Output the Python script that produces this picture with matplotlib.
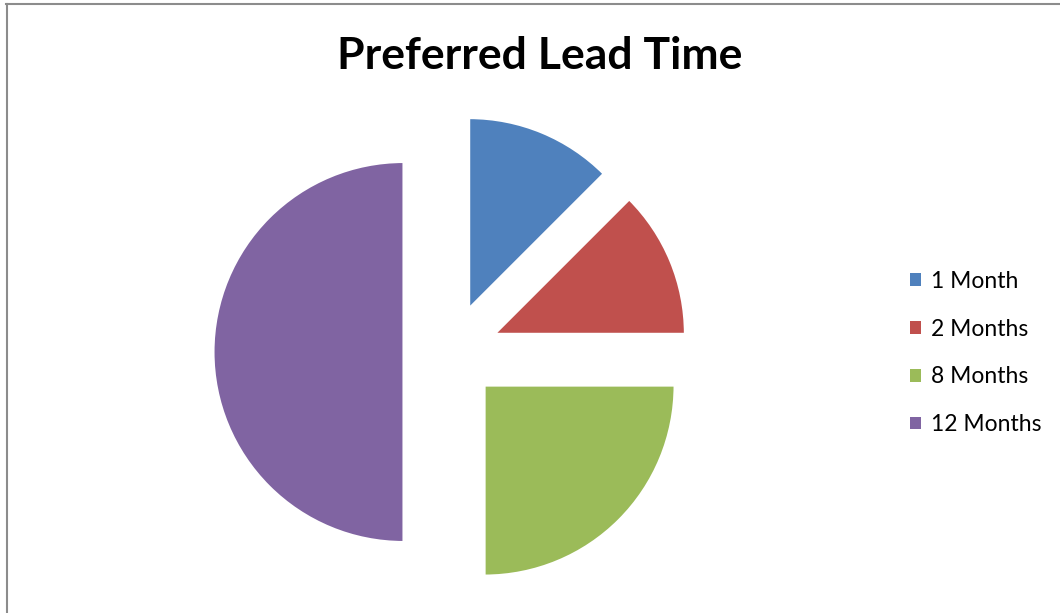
import matplotlib.pyplot as plt
from matplotlib.lines import Line2D
from matplotlib.patches import Patch

# Du lieu
labels = ['1 Month', '2 Months', '8 Months', '12 Months']
values = [1, 1, 2, 4]
colors = ['#4F81BD', '#C0504D', '#9BBB59', '#8064A2']

W, H = 1060, 613
fig = plt.figure(figsize=(W / 100, H / 100), dpi=100)
plt.rcParams['font.family'] = ['Lato', 'DejaVu Sans']

# Tam pie (px) va ban kinh (px)
cx, cy, R = 451, H - 352, 190
ax_l, ax_r = 166, 736
ax = fig.add_axes([ax_l / W, 0, (ax_r - ax_l) / W, 1])

ax.pie(values, colors=colors, startangle=90, counterclock=False,
       explode=[0.25] * 4,
       wedgeprops=dict(edgecolor='white', linewidth=1.5))
half = (ax_r - ax_l) / 2 / R
ax.set_aspect('auto')
ax.set_xlim(-half, half)
ax.set_ylim(-cy / R, (H - cy) / R)

fig.text(540 / W, 1 - 56 / H, 'Preferred Lead Time', ha='center', va='center',
         fontsize=32, fontweight='bold')

handles = [Patch(facecolor=c, edgecolor='none') for c in colors]
fig.legend(handles, labels, loc='center left',
           bbox_to_anchor=(889 / W, 1 - 353 / H), frameon=False,
           fontsize=16.5, handlelength=0.48, handleheight=0.48,
           handletextpad=0.45, labelspacing=1.17)

# Khung vien
fig.add_artist(Line2D([6.5 / W, 6.5 / W], [0, 1 - 4 / H], color='#8c8c8c', lw=1.5))
fig.add_artist(Line2D([6 / W, 1], [1 - 4 / H, 1 - 4 / H], color='#8c8c8c', lw=1.5))

fig.savefig('out.png', dpi=100)
